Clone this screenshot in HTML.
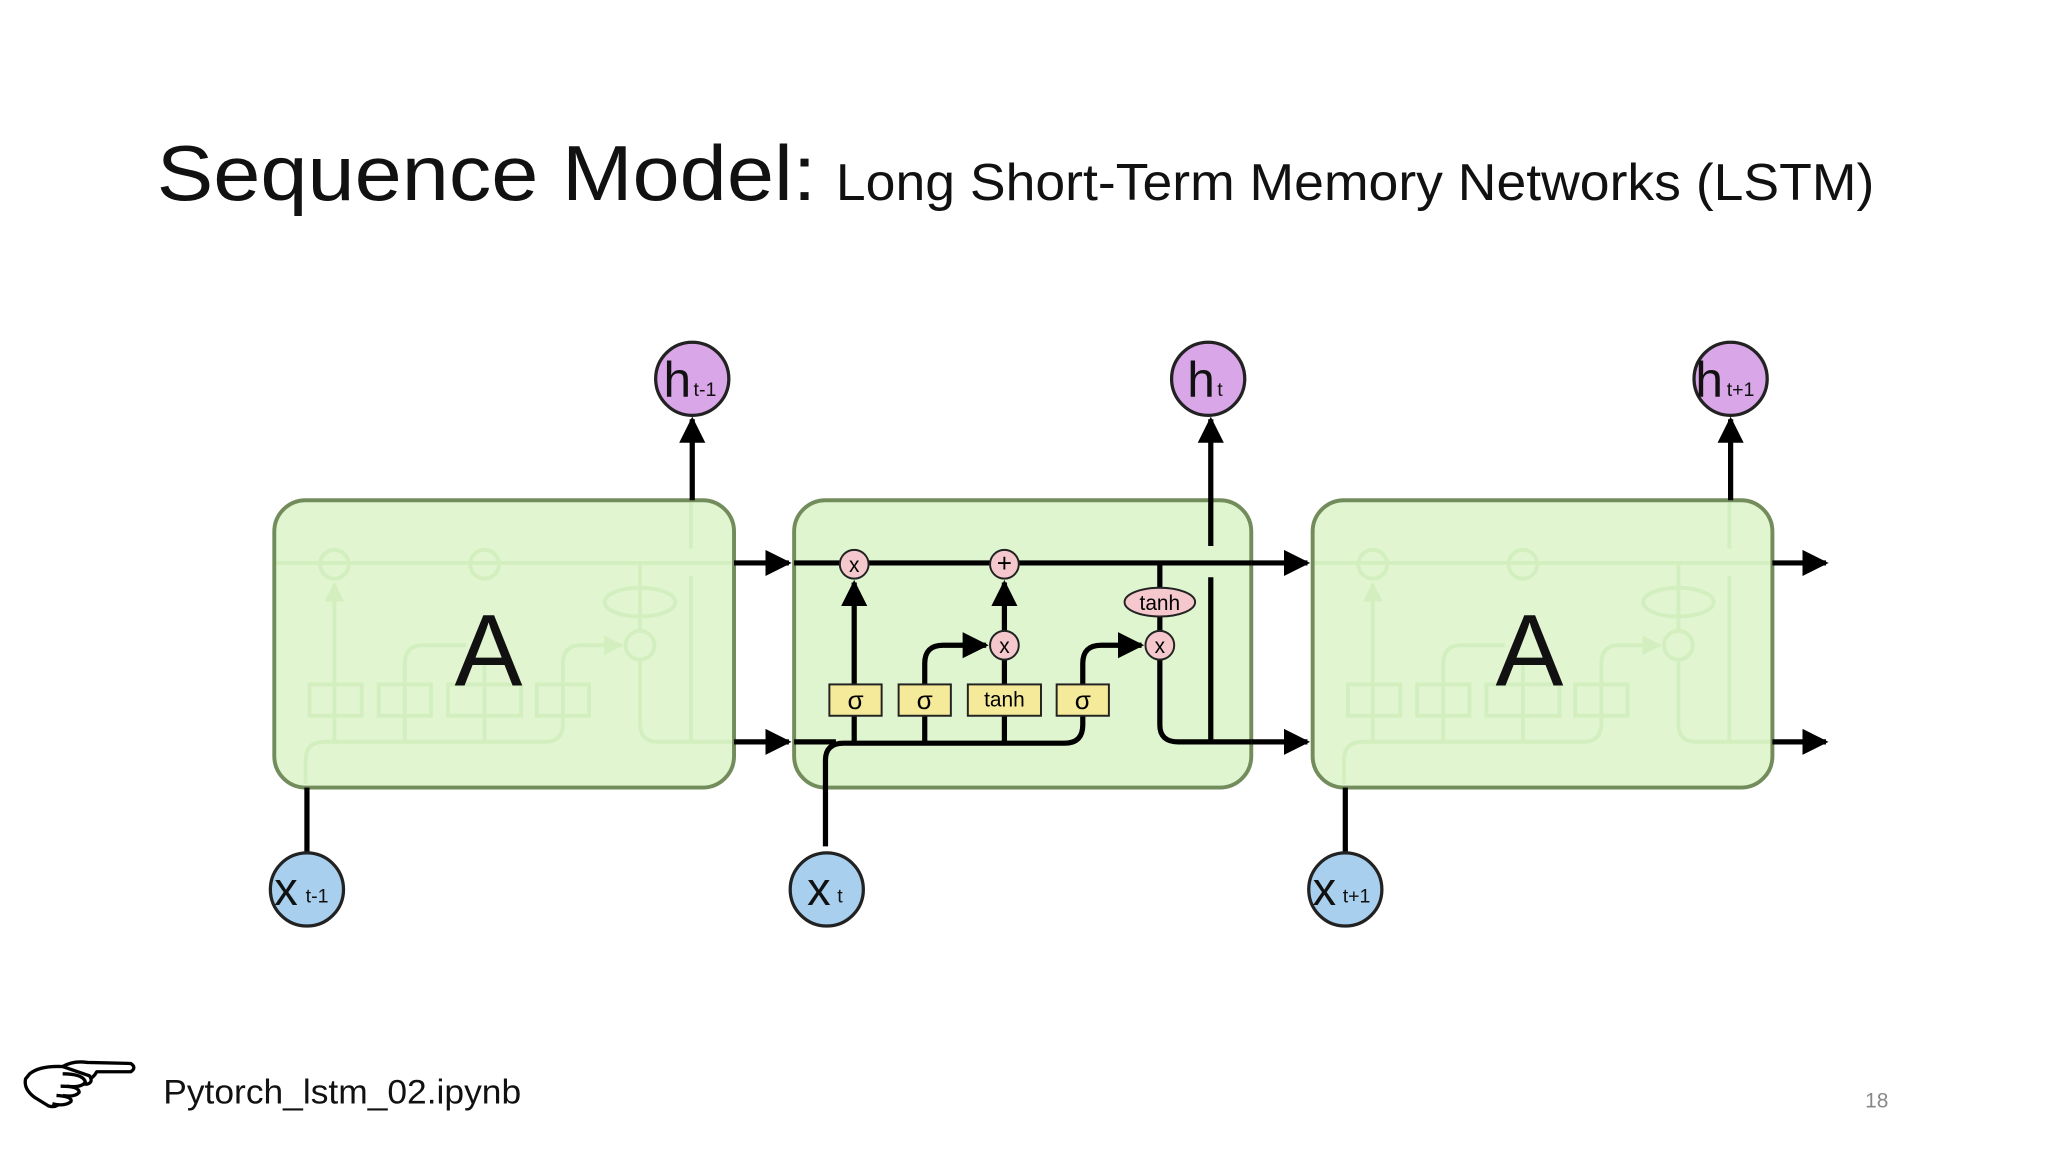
<!DOCTYPE html>
<html><head><meta charset="utf-8"><style>
html,body{margin:0;padding:0;background:#fff;}
svg{display:block;}
</style></head><body>
<svg width="2048" height="1152" viewBox="0 0 1568 882" xmlns="http://www.w3.org/2000/svg" font-family="Liberation Sans, DejaVu Sans, sans-serif">
<defs>
<marker id="ah" viewBox="0 0 10 10" refX="9" refY="5" markerWidth="5" markerHeight="5" markerUnits="strokeWidth" orient="auto"><path d="M0,0 L10,5 L0,10 z" fill="#000"/></marker>
<marker id="af" viewBox="0 0 10 10" refX="9" refY="5" markerWidth="5" markerHeight="5" markerUnits="strokeWidth" orient="auto"><path d="M0,0 L10,5 L0,10 z" fill="#cfe6bd"/></marker>
</defs>
<rect width="1568" height="882" fill="#fff"/>
<text x="120" y="153" font-size="60" fill="#111" textLength="505" lengthAdjust="spacingAndGlyphs">Sequence Model:</text>
<text x="640" y="153" font-size="40" fill="#111" textLength="795" lengthAdjust="spacingAndGlyphs">Long Short-Term Memory Networks (LSTM)</text>

<g transform="translate(-398,0)" stroke="#cfe6bd" stroke-width="3" fill="none">
 <line x1="608" y1="431" x2="958" y2="431"/>
 <path d="M632 600 V582 Q632 568 646 568 H815 Q829 568 829 554 V508 Q829 494 843 494 H874" marker-end="url(#af)"/>
 <line x1="654" y1="568" x2="654" y2="447" marker-end="url(#af)"/>
 <path d="M708 568 V508 Q708 494 722 494 H755"/>
 <line x1="769" y1="568" x2="769" y2="505"/>
 <path d="M888 431 V483 M888 505 V554 Q888 568 902 568 H958 M927 568 V441 M927 420 V383"/>
 <circle cx="654" cy="432" r="11"/><circle cx="769" cy="432" r="11"/><circle cx="888" cy="494" r="11"/>
 <ellipse cx="888" cy="461" rx="27" ry="11"/>
 <rect x="635" y="524" width="40" height="24"/><rect x="688" y="524" width="40" height="24"/><rect x="741" y="524" width="56" height="24"/><rect x="809" y="524" width="40" height="24"/>
</g>
<g transform="translate(397,0)" stroke="#cfe6bd" stroke-width="3" fill="none">
 <line x1="608" y1="431" x2="958" y2="431"/>
 <path d="M632 600 V582 Q632 568 646 568 H815 Q829 568 829 554 V508 Q829 494 843 494 H874" marker-end="url(#af)"/>
 <line x1="654" y1="568" x2="654" y2="447" marker-end="url(#af)"/>
 <path d="M708 568 V508 Q708 494 722 494 H755"/>
 <line x1="769" y1="568" x2="769" y2="505"/>
 <path d="M888 431 V483 M888 505 V554 Q888 568 902 568 H958 M927 568 V441 M927 420 V383"/>
 <circle cx="654" cy="432" r="11"/><circle cx="769" cy="432" r="11"/><circle cx="888" cy="494" r="11"/>
 <ellipse cx="888" cy="461" rx="27" ry="11"/>
 <rect x="635" y="524" width="40" height="24"/><rect x="688" y="524" width="40" height="24"/><rect x="741" y="524" width="56" height="24"/><rect x="809" y="524" width="40" height="24"/>
</g>
<rect x="210" y="383" width="352" height="220" rx="24" fill="#d6f2c0" fill-opacity="0.75" stroke="#738c5c" stroke-width="3"/>
<rect x="608" y="383" width="350" height="220" rx="24" fill="#dff5cf" stroke="#738c5c" stroke-width="3"/>
<rect x="1005" y="383" width="352" height="220" rx="24" fill="#d6f2c0" fill-opacity="0.75" stroke="#738c5c" stroke-width="3"/>
<text x="374" y="525" font-size="78" text-anchor="middle" fill="#111">A</text>
<text x="1171" y="525" font-size="78" text-anchor="middle" fill="#111">A</text>

<g stroke="#000" stroke-width="4" fill="none">
 <line x1="562" y1="431" x2="604" y2="431" marker-end="url(#ah)"/>
 <line x1="562" y1="568" x2="604" y2="568" marker-end="url(#ah)"/>
 <line x1="958" y1="431" x2="1001" y2="431" marker-end="url(#ah)"/>
 <line x1="958" y1="568" x2="1001" y2="568" marker-end="url(#ah)"/>
 <line x1="1357" y1="431" x2="1398" y2="431" marker-end="url(#ah)"/>
 <line x1="1357" y1="568" x2="1398" y2="568" marker-end="url(#ah)"/>
 <line x1="530" y1="383" x2="530" y2="321" marker-end="url(#ah)"/>
 <line x1="1325" y1="383" x2="1325" y2="321" marker-end="url(#ah)"/>
 <line x1="235" y1="653" x2="235" y2="603"/>
 <line x1="1030" y1="653" x2="1030" y2="603"/>
 <line x1="608" y1="431" x2="958" y2="431"/>
 <path d="M632 648 V582 Q632 569 646 569 H815 Q829 569 829 555 V508 Q829 494 843 494 H874" marker-end="url(#ah)"/>
 <line x1="608" y1="568" x2="640" y2="568"/>
 <line x1="654" y1="568" x2="654" y2="446" marker-end="url(#ah)"/>
 <path d="M708 568 V508 Q708 494 722 494 H755" marker-end="url(#ah)"/>
 <line x1="769" y1="568" x2="769" y2="505"/>
 <line x1="769" y1="483" x2="769" y2="446" marker-end="url(#ah)"/>
 <path d="M888 431 V483 M888 505 V555 Q888 568 902 568 H958"/>
 <line x1="927" y1="568" x2="927" y2="442"/>
 <line x1="927" y1="418" x2="927" y2="321" marker-end="url(#ah)"/>
</g>
<g stroke="#222" stroke-width="1.5" font-size="16" text-anchor="middle">
 <circle cx="654" cy="432" r="11" fill="#f4c8cc"/><text x="654" y="438" stroke="none">x</text>
 <circle cx="769" cy="432" r="11" fill="#f4c8cc"/><text x="769" y="438" stroke="none" font-size="20">+</text>
 <circle cx="769" cy="494" r="11" fill="#f4c8cc"/><text x="769" y="500" stroke="none">x</text>
 <circle cx="888" cy="494" r="11" fill="#f4c8cc"/><text x="888" y="500" stroke="none">x</text>
 <ellipse cx="888" cy="461" rx="27" ry="11" fill="#f4c8cc"/><text x="888" y="467" stroke="none">tanh</text>
 <rect x="635" y="524" width="40" height="24" fill="#f5e99a"/><text x="655" y="543" stroke="none" font-size="20">σ</text>
 <rect x="688" y="524" width="40" height="24" fill="#f5e99a"/><text x="708" y="543" stroke="none" font-size="20">σ</text>
 <rect x="741" y="524" width="56" height="24" fill="#f5e99a"/><text x="769" y="541" stroke="none">tanh</text>
 <rect x="809" y="524" width="40" height="24" fill="#f5e99a"/><text x="829" y="543" stroke="none" font-size="20">σ</text>
</g>
<g stroke="#222" stroke-width="2.5">
 <circle cx="530" cy="290" r="28" fill="#d9a6e8"/>
 <circle cx="925" cy="290" r="28" fill="#d9a6e8"/>
 <circle cx="1325" cy="290" r="28" fill="#d9a6e8"/>
 <circle cx="235" cy="681" r="28" fill="#a8d0ee"/>
 <circle cx="633" cy="681" r="28" fill="#a8d0ee"/>
 <circle cx="1030" cy="681" r="28" fill="#a8d0ee"/>
</g>
<g fill="#111">
 <text x="508" y="304" font-size="38">h</text><text x="531" y="303" font-size="15">t-1</text>
 <text x="909" y="304" font-size="38">h</text><text x="932" y="303" font-size="15">t</text>
 <text x="1298" y="304" font-size="38">h</text><text x="1322" y="303" font-size="15">t+1</text>
 <text x="210" y="693" font-size="36">x</text><text x="234" y="691" font-size="15">t-1</text>
 <text x="618" y="693" font-size="36">x</text><text x="641" y="691" font-size="15">t</text>
 <text x="1005" y="693" font-size="36">x</text><text x="1028" y="691" font-size="15">t+1</text>
</g>
<g transform="translate(-1,168) scale(0.79)" fill="#fff" stroke="#000" stroke-width="3.2" stroke-linejoin="round">
 <path d="M62 821 Q72 815 86 817 L128 818 Q134 822 128 826 L95 826 Q92 832 86 834"/>
 <path d="M30 828 Q40 820 62 821 L88 830 Q92 836 86 838 L70 838 Q72 848 62 854 Q56 862 48 859 L35 851 Q24 843 26 833 Z"/>
 <path d="M62 828 Q82 828 84 836 Q80 842 66 840 M60 840 Q78 840 78 846 Q74 851 62 849 M56 849 Q72 850 70 855 Q64 860 52 857"/>
</g>
<text x="125" y="845" font-size="26" fill="#111" textLength="274" lengthAdjust="spacingAndGlyphs">Pytorch_lstm_02.ipynb</text>
<text x="1428" y="848" font-size="16" fill="#888">18</text>
</svg>
</body></html>
